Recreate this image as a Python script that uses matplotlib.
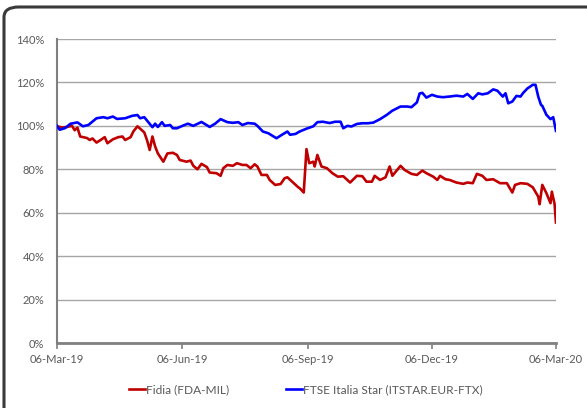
"""
Fidia vs FTSE Italia Star, rebased performance Mar-19 to Mar-20.
"""

import matplotlib
matplotlib.use("Agg")
import matplotlib.pyplot as plt
from matplotlib.patches import FancyBboxPatch
from matplotlib.ticker import FuncFormatter
import pandas as pd

plt.rcParams["font.family"] = ["Lato", "DejaVu Sans"]

START = pd.Timestamp("2019-03-06")

# FTSE Italia Star, days since start and rebased value (%)
star_days = [0, 2, 6, 10, 15, 19, 23, 29, 34, 37, 41, 44, 50, 55, 59, 61, 64, 67, 70, 72,
             74, 77, 79, 83, 85, 88, 92, 96, 100, 106, 112, 116, 120, 125, 129, 133, 136,
             140, 145, 147, 151, 155, 161, 165, 169, 171, 175, 178, 183, 188, 191, 195,
             200, 204, 208, 210, 213, 216, 220, 224, 228, 232, 237, 242, 246, 252, 257,
             260, 264, 266, 268, 271, 275, 279, 283, 288, 293, 298, 301, 305, 309, 312,
             316, 320, 323, 327, 329, 331, 334, 337, 340, 342, 345, 349, 351, 353, 355,
             356, 359, 362, 364, 366]
star_values = [100, 98.2, 99, 101, 101.6, 99.8, 100.4, 103.5, 104, 103.5, 104.3, 103.2,
               103.5, 104.6, 105, 103.5, 104, 101.7, 99.4, 101, 99.5, 101.7, 100, 100.4,
               98.9, 98.9, 100, 101, 100, 101.8, 99.5, 101, 103.1, 101.7, 101.4, 101.7,
               100.4, 101.3, 101, 100, 97.4, 96.6, 94.3, 95.9, 97.4, 95.9, 96.3, 97.4, 98.7,
               99.8, 101.7, 101.9, 101.3, 101.9, 101.9, 98.9, 100, 99.7, 100.9, 101.2,
               101.2, 101.5, 103.1, 105.1, 107, 108.9, 108.9, 108.6, 110.8, 114.9, 115.2,
               113, 114.3, 113.5, 113.2, 113.5, 113.9, 113.5, 114.7, 112.4, 115, 114.5, 115,
               116.8, 116.2, 113.5, 115, 110.4, 111.2, 113.8, 113.5, 115.2, 117.2, 118.9,
               118.9, 113.5, 109.7, 109.2, 105.1, 103.1, 104, 97.7]

# Fidia, days since start and rebased value (%)
fidia_days = [0, 4, 7, 11, 13, 15, 17, 22, 24, 26, 29, 32, 35, 37, 41, 45, 48, 50, 54, 56,
              59, 61, 64, 66, 68, 70, 72, 74, 78, 81, 85, 88, 90, 95, 98, 100, 103, 106,
              110, 112, 117, 120, 122, 125, 129, 132, 136, 139, 142, 145, 147, 150, 154,
              156, 160, 164, 167, 169, 173, 177, 178, 181, 183, 185, 188, 189, 191, 194,
              198, 202, 206, 210, 215, 220, 224, 227, 231, 233, 237, 241, 244, 246, 252,
              255, 260, 264, 268, 271, 276, 279, 281, 285, 288, 293, 298, 301, 305, 308,
              312, 315, 320, 325, 330, 334, 336, 340, 345, 349, 353, 354, 356, 359, 362,
              363, 365, 366]
fidia_values = [99.8, 99.2, 99.5, 100, 98, 99.2, 95.1, 94.4, 93.5, 94.2, 92.3, 93.5, 94.8,
                92, 93.8, 94.8, 95.1, 93.5, 94.8, 97.4, 99.8, 98.7, 97, 93.5, 88.9, 95.1,
                90.5, 87.3, 83.5, 87.3, 87.6, 86.6, 84.3, 83.5, 84, 81.6, 80, 82.5, 81,
                78.5, 78.2, 77, 80.5, 82, 81.6, 82.8, 82, 82, 80.5, 82.3, 81.3, 77.4, 77.4,
                75.1, 72.8, 73.2, 75.9, 76.3, 74, 71.7, 71.3, 69.3, 89.3, 82.8, 83.5, 81.3,
                86.6, 81.3, 80.5, 78.2, 76.6, 76.8, 73.9, 77, 76.8, 74.3, 74.3, 77, 75.1,
                76.3, 81.3, 77, 81.6, 79.7, 77.9, 77.4, 79.4, 78.2, 76.6, 75.1, 77, 75.4,
                75.1, 73.9, 73.3, 73.9, 73.6, 77.9, 77, 75.1, 75.4, 73.6, 73.6, 69.3, 72.8,
                73.6, 73.3, 71.7, 67.4, 63.9, 72.8, 69, 64.4, 69.7, 64, 55.5]

tick_labels = ["06-Mar-19", "06-Jun-19", "06-Sep-19", "06-Dec-19", "06-Mar-20"]

star_dates = START + pd.to_timedelta(star_days, unit="D")
fidia_dates = START + pd.to_timedelta(fidia_days, unit="D")
tick_dates = pd.to_datetime(tick_labels, format="%d-%b-%y")

TEXT = "#595959"
GRID = "#a6a6a6"

fig = plt.figure(figsize=(5.87, 4.08), dpi=100)
ax = fig.add_axes([0.0971, 0.1593, 0.8500, 0.7451])

# rounded frame around the chart
frame = FancyBboxPatch(
    (4 / 587, -0.2), 1.2, (408 - 7) / 408 + 0.2,
    boxstyle="round,pad=0,rounding_size=0.025",
    transform=fig.transFigure, facecolor="none", edgecolor="#3a3a3a",
    linewidth=2.2, clip_on=False,
)
fig.patches.append(frame)

ax.plot(fidia_dates, fidia_values, color="#C00000", linewidth=1.9,
        label="Fidia (FDA-MIL)", zorder=3)
ax.plot(star_dates, star_values, color="#0000FF", linewidth=1.9,
        label="FTSE Italia Star (ITSTAR.EUR-FTX)", zorder=3)

ax.set_ylim(0, 140)
ax.set_yticks(range(0, 141, 20))
ax.yaxis.set_major_formatter(FuncFormatter(lambda v, _: f"{v:.0f}%"))
ax.set_xlim(tick_dates[0], tick_dates[-1])
ax.set_xticks(tick_dates)
ax.set_xticklabels(tick_labels)

ax.grid(axis="y", color=GRID, linewidth=1.0, zorder=1)
ax.set_axisbelow(True)
for side in ("top", "right"):
    ax.spines[side].set_visible(False)
ax.spines["left"].set_color("#808080")
ax.spines["left"].set_linewidth(1.5)
ax.spines["bottom"].set_color("#808080")
ax.spines["bottom"].set_linewidth(2.0)

ax.tick_params(axis="y", length=0, pad=9, labelsize=8, labelcolor=TEXT)
ax.tick_params(axis="x", length=4, width=1.2, color="#808080", pad=4,
               labelsize=8, labelcolor=TEXT)

fig.legend(loc="center", bbox_to_anchor=(0.521, 0.045), ncol=2, frameon=False,
           fontsize=8.6, labelcolor=TEXT, handlelength=1.3, handletextpad=0.1,
           columnspacing=4.8)

fig.savefig("out.png", dpi=100)
